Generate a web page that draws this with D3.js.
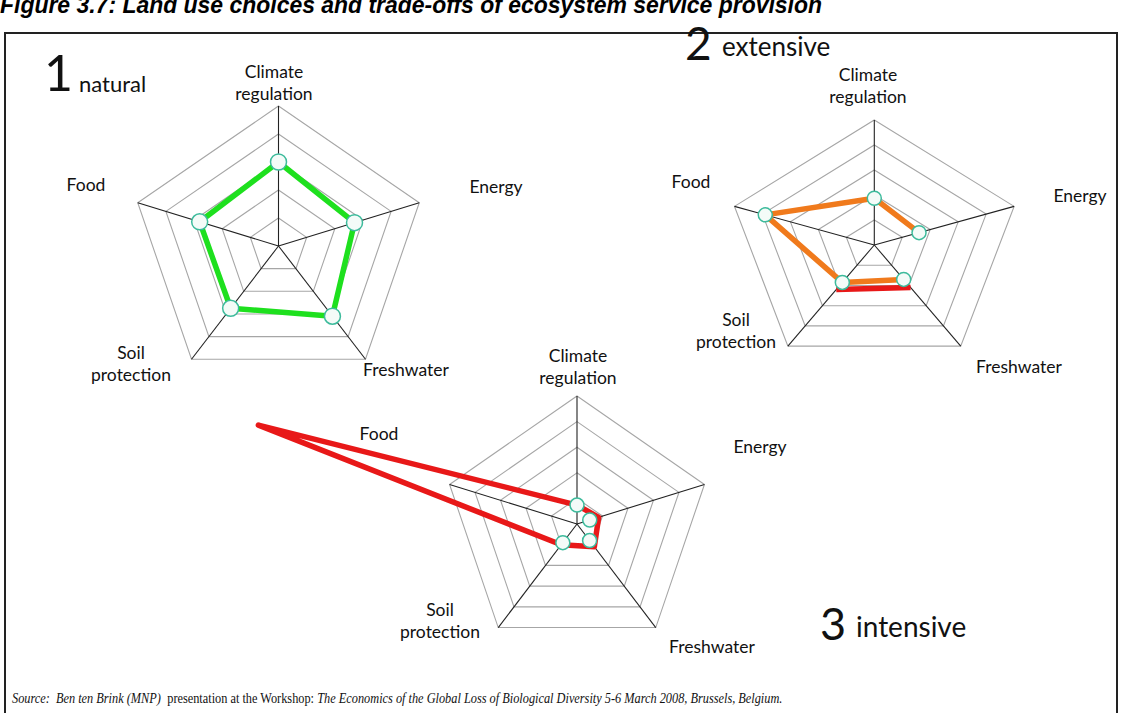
<!DOCTYPE html>
<html>
<head>
<meta charset="utf-8">
<script src="https://cdn.jsdelivr.net/npm/d3@7"></script>
<style>
  body { margin: 0; background: #fff; }
  svg { display: block; }
</style>
</head>
<body>
<div id="chart"></div>
<script>
// axes of every radar, clockwise from the top
const axes = ['Climate regulation', 'Energy', 'Freshwater', 'Soil protection', 'Food'];
const ringTicks = [1, 2, 3, 4, 5];

// values on a 0-5 scale (5 = outer ring), order as in axes
const naturalLine = [3.0, 2.7, 3.1, 2.75, 2.8];
const naturalDots = [3.0, 2.7, 3.1, 2.75, 2.8];

const extensiveLine = [1.87, 1.6, 1.7, 1.85, 3.9];
const extensiveDots = [1.87, 1.6, 1.7, 1.85, 3.9];
const extensiveRed = [null, null, 2.1, 2.2, null];

const intensiveLine = [0.74, 0.85, 1.1, 1.0, 12.5];
const intensiveDots = [0.74, 0.5, 0.8, 0.9, null];

const panelNumbers = ['1', '2', '3'];
const panelNames = ['natural', 'extensive', 'intensive'];

const sourceParts = [
  { text: 'Source:  Ben ten Brink (MNP)  ', italic: true },
  { text: 'presentation at the Workshop: ', italic: false },
  { text: 'The Economics of the Global Loss of Biological Diversity 5-6 March 2008, Brussels, Belgium.', italic: true }
];

const width = 1121, height = 713;

const svg = d3.select('#chart').append('svg')
  .attr('width', width)
  .attr('height', height);

// title, cut off by the top of the page as in the scan
svg.append('text')
  .attr('x', 0)
  .attr('y', 13)
  .attr('font-family', 'Liberation Sans Narrow, Liberation Sans, sans-serif')
  .attr('font-weight', 'bold')
  .attr('font-style', 'italic')
  .attr('font-size', 24)
  .attr('textLength', 822)
  .attr('lengthAdjust', 'spacingAndGlyphs')
  .text('Figure 3.7: Land use choices and trade-offs of ecosystem service provision');

// frame
svg.append('rect')
  .attr('x', 5).attr('y', 33)
  .attr('width', 1112).attr('height', 720)
  .attr('fill', 'none')
  .attr('stroke', '#222')
  .attr('stroke-width', 2);

const labelFont = 'Lato, Calibri, sans-serif';

const panels = [
  {
    cx: 278.5, cy: 246, rx: 148, ry: 140,
    lines: [{ values: naturalLine, color: '#1ee01e', closed: true }],
    dots: naturalDots, dotR: 8,
    labels: [[274, 72], [496, 187], [406, 370], [131, 353], [86, 185]],
    number: [44, 91, 50], name: [79, 92, 22]
  },
  {
    cx: 874.3, cy: 245, rx: 147, ry: 125,
    lines: [
      { values: extensiveRed, color: '#e81818', closed: false },
      { values: extensiveLine, color: '#f07a1c', closed: false, start: 2 }
    ],
    dots: extensiveDots, dotR: 7,
    labels: [[868, 75], [1080, 196], [1019, 367], [736, 320], [691, 182]],
    number: [685, 60, 46], name: [722, 56, 26]
  },
  {
    cx: 577, cy: 524, rx: 134, ry: 128,
    lines: [{ values: intensiveLine, color: '#e81818', closed: true }],
    dots: intensiveDots, dotR: 7,
    labels: [[578, 356], [760, 447], [712, 647], [440, 610], [379, 434]],
    number: [820, 640, 45], name: [856, 637, 28]
  }
];

const angle = d3.scalePoint().domain(d3.range(axes.length)).range([0, 2 * Math.PI * 4 / 5]);

panels.forEach((p, pi) => {
  const g = svg.append('g');
  const rX = d3.scaleLinear().domain([0, 5]).range([0, p.rx]);
  const rY = d3.scaleLinear().domain([0, 5]).range([0, p.ry]);
  const pt = (v, i) => [p.cx + rX(v) * Math.sin(angle(i)), p.cy - rY(v) * Math.cos(angle(i))];

  // rings
  g.selectAll('.ring').data(ringTicks).enter().append('path')
    .attr('d', t => d3.line().curve(d3.curveLinearClosed)(axes.map((a, i) => pt(t, i))))
    .attr('fill', 'none')
    .attr('stroke', '#a6a6a6')
    .attr('stroke-width', 1.1);

  // spokes
  g.selectAll('.spoke').data(axes).enter().append('line')
    .attr('x1', p.cx).attr('y1', p.cy)
    .attr('x2', (a, i) => pt(5, i)[0])
    .attr('y2', (a, i) => pt(5, i)[1])
    .attr('stroke', '#222')
    .attr('stroke-width', 1.1);

  // series lines
  p.lines.forEach(s => {
    let idx = d3.range(axes.length);
    if (s.start) idx = idx.slice(s.start).concat(idx.slice(0, s.start));
    const pts = idx.filter(i => s.values[i] != null).map(i => pt(s.values[i], i));
    const line = d3.line().curve(s.closed ? d3.curveLinearClosed : d3.curveLinear);
    g.append('path')
      .attr('d', line(pts))
      .attr('fill', 'none')
      .attr('stroke', s.color)
      .attr('stroke-width', 5.5)
      .attr('stroke-linejoin', 'round');
  });

  // markers
  g.selectAll('.dot').data(p.dots.map((v, i) => [v, i]).filter(d => d[0] != null))
    .enter().append('circle')
    .attr('cx', d => pt(d[0], d[1])[0])
    .attr('cy', d => pt(d[0], d[1])[1])
    .attr('r', p.dotR)
    .attr('fill', '#f4fbf8')
    .attr('stroke', '#3dbb9c')
    .attr('stroke-width', 1.5);

  // axis labels
  axes.forEach((a, i) => {
    const words = a.split(' ');
    const t = g.append('text')
      .attr('font-family', labelFont)
      .attr('font-size', 17.5)
      .attr('fill', '#111')
      .attr('text-anchor', 'middle');
    words.forEach((w, k) => {
      t.append('tspan')
        .attr('x', p.labels[i][0])
        .attr('y', p.labels[i][1] + 6 + k * 22)
        .text(w);
    });
  });

  // panel number and name
  g.append('text')
    .attr('x', p.number[0]).attr('y', p.number[1])
    .attr('font-family', labelFont)
    .attr('font-size', p.number[2])
    .attr('fill', '#111')
    .text(panelNumbers[pi]);
  g.append('text')
    .attr('x', p.name[0]).attr('y', p.name[1])
    .attr('font-family', labelFont)
    .attr('font-size', p.name[2])
    .attr('fill', '#111')
    .text(panelNames[pi]);
});

// source line: pieces laid end to end, then scaled to the width in the scan
const srcG = svg.append('g');
let sx = 0;
sourceParts.forEach(part => {
  const t = srcG.append('text')
    .attr('x', sx).attr('y', 0)
    .attr('font-family', 'Liberation Serif, serif')
    .attr('font-size', 14)
    .attr('font-style', part.italic ? 'italic' : 'normal')
    .attr('fill', '#111')
    .attr('xml:space', 'preserve')
    .style('white-space', 'pre')
    .text(part.text);
  sx += t.node().getComputedTextLength();
});
srcG.attr('transform', `translate(12,703) scale(${771 / sx},1)`);
</script>
</body>
</html>
